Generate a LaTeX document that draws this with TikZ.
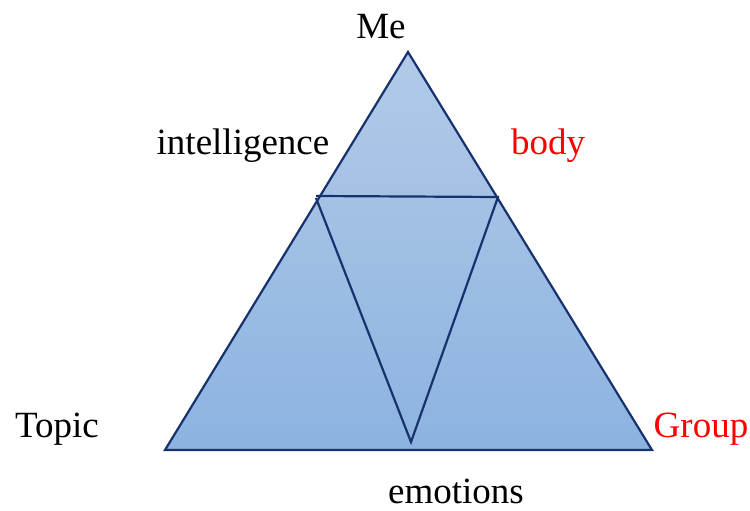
\documentclass[tikz,border=0pt]{standalone}
\usepackage{fontspec}
\setmainfont{Liberation Serif}
\definecolor{edge}{RGB}{24,50,110}
\definecolor{filltop}{RGB}{178,202,232}
\definecolor{fillbot}{RGB}{140,179,224}
\definecolor{lblred}{RGB}{255,0,0}
\begin{document}
\begin{tikzpicture}[x=1pt,y=-1pt,
  lbl/.style={anchor=base,inner sep=0pt,font=\fontsize{37}{40}\selectfont},
  edgeline/.style={draw=edge,line width=2.2pt,line join=miter}]
\useasboundingbox (0,0) rectangle (750,511);
\coordinate (apex) at (408,52);
\coordinate (bl) at (165,450);
\coordinate (br) at (652,450);
\coordinate (ml) at (316,196);
\coordinate (mr) at (499,197);
\coordinate (il) at (316,198);
\coordinate (ir) at (498,197);
\coordinate (ib) at (411,442);
\shade[top color=filltop,bottom color=fillbot] (apex) -- (br) -- (bl) -- cycle;
\draw[edgeline] (apex) -- (br) -- (bl) -- cycle;
\draw[edgeline] (ml) -- (mr);
\draw[edgeline] (il) -- (ib) -- (ir);
\node[lbl] (me) at (381,39) {Me};
\node[lbl] (intel) at (243,154) {intelligence};
\node[lbl,text=lblred] (body) at (548,154) {body};
\node[lbl] (topic) at (57,437) {Topic};
\node[lbl,text=lblred] (group) at (701,437) {Group};
\node[lbl] (emo) at (456,503) {emotions};
\end{tikzpicture}
\end{document}
